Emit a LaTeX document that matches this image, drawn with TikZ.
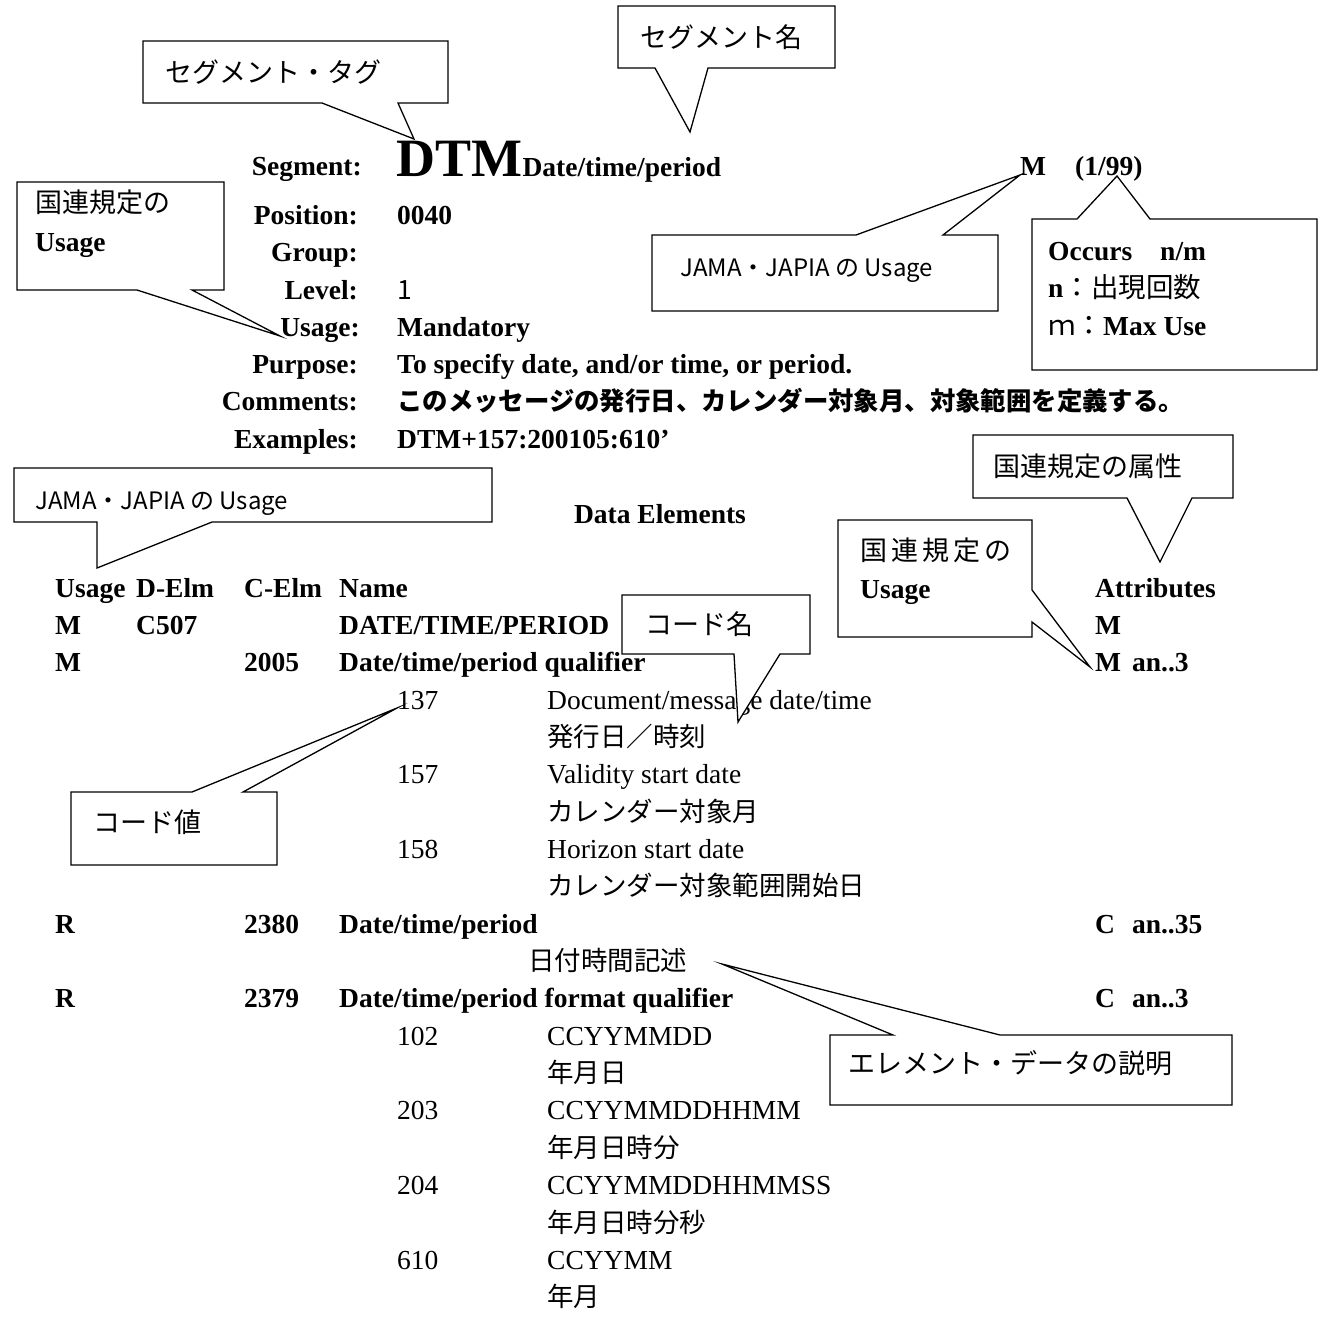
\documentclass[tikz,border=0pt]{standalone}
\usepackage{fontspec}
\setmainfont{Liberation Serif}
\newfontfamily\jp{Noto Sans CJK JP}
\begin{document}
\begin{tikzpicture}[x=1pt,y=-1pt,
  lab/.style={anchor=base east,inner sep=0pt,font=\fontsize{27.5}{30}\selectfont\bfseries},
  bv/.style={anchor=base west,inner sep=0pt,font=\fontsize{27.5}{30}\selectfont\bfseries},
  rv/.style={anchor=base west,inner sep=0pt,font=\fontsize{27.5}{30}\selectfont},
  jv/.style={anchor=base west,inner sep=0pt,font=\fontsize{26.5}{30}\selectfont\jp},
  ct/.style={anchor=base west,inner sep=0pt,font=\fontsize{27}{30}\selectfont\jp},
  co/.style={draw=black,fill=white,line width=1.3pt,line join=miter,miter limit=30},
]
\useasboundingbox (0,0) rectangle (1326,1320);

% ---------- segment header ----------
\node[lab] (lseg) at (362,175) {Segment:};
\node[anchor=base west,inner sep=0pt,font=\fontsize{54}{54}\selectfont\bfseries] (dtm) at (396,176) {DTM};
\node[bv] (segname) at (dtm.base east) {Date/time/period};
\node[bv] (segm) at (1020,175) {M};
\node[bv] (segocc) at (1075,175) {(1/99)};
\node[lab] (lpos) at (358,224) {Position:};
\node[bv] (vpos) at (397,224) {0040};
\node[lab] (lgrp) at (358,261) {Group:};
\node[lab] (llev) at (358,299) {Level:};
\node[jv] (vlev) at (397,299) {1};
\node[lab] (luse) at (360,336) {Usage:};
\node[bv] (vuse) at (397,336) {Mandatory};
\node[lab] (lpur) at (358,373) {Purpose:};
\node[bv] (vpur) at (397,373) {To specify date, and/or time, or period.};
\node[lab] (lcom) at (358,410) {Comments:};
\node[anchor=base west,inner sep=0pt,font=\fontsize{25.4}{30}\selectfont\jp\bfseries] (vcom) at (397,410) {このメッセージの発行日、カレンダー対象月、対象範囲を定義する。};
\node[lab] (lex) at (358,448) {Examples:};
\node[bv] (vex) at (397,448) {DTM+157:200105:610’};

\node[anchor=base,inner sep=0pt,font=\fontsize{27.5}{30}\selectfont\bfseries] (de) at (660,523) {Data Elements};

% ---------- table ----------
\node[bv] (hu) at (55,597) {Usage};
\node[bv] (hd) at (136,597) {D-Elm};
\node[bv] (hc) at (244,597) {C-Elm};
\node[bv] (hn) at (339,597) {Name};
\node[bv] (ha) at (1095,597) {Attributes};

\node[bv] (r1u) at (55,634.4) {M};
\node[bv] (r1d) at (136,634.4) {C507};
\node[bv] (r1n) at (339,634.4) {DATE/TIME/PERIOD};
\node[bv] (r1a) at (1095,634.4) {M};

\node[bv] (r2u) at (55,671.7) {M};
\node[bv] (r2c) at (244,671.7) {2005};
\node[bv] (r2n) at (339,671.7) {Date/time/period qualifier};
\node[bv] (r2a) at (1095,671.7) {M\hspace{11pt}an..3};

\node[rv] (c137) at (397,709.1) {137};
\node[rv] (d137) at (547,709.1) {Document/message date/time};
\node[jv] (j137) at (547,746.4) {発行日／時刻};
\node[rv] (c157) at (397,783.8) {157};
\node[rv] (d157) at (547,783.8) {Validity start date};
\node[jv] (j157) at (547,821.1) {カレンダー対象月};
\node[rv] (c158) at (397,858.5) {158};
\node[rv] (d158) at (547,858.5) {Horizon start date};
\node[jv] (j158) at (547,895.8) {カレンダー対象範囲開始日};

\node[bv] (r3u) at (55,933.2) {R};
\node[bv] (r3c) at (244,933.2) {2380};
\node[bv] (r3n) at (339,933.2) {Date/time/period};
\node[bv] (r3a) at (1095,933.2) {C\hspace{17pt}an..35};
\node[jv] (j2380) at (528,970.5) {日付時間記述};

\node[bv] (r4u) at (55,1007.9) {R};
\node[bv] (r4c) at (244,1007.9) {2379};
\node[bv] (r4n) at (339,1007.9) {Date/time/period format qualifier};
\node[bv] (r4a) at (1095,1007.9) {C\hspace{17pt}an..3};

\node[rv] (c102) at (397,1045.2) {102};
\node[rv] (d102) at (547,1045.2) {CCYYMMDD};
\node[jv] (j102) at (547,1082.6) {年月日};
\node[rv] (c203) at (397,1119.9) {203};
\node[rv] (d203) at (547,1119.9) {CCYYMMDDHHMM};
\node[jv] (j203) at (547,1157.3) {年月日時分};
\node[rv] (c204) at (397,1194.6) {204};
\node[rv] (d204) at (547,1194.6) {CCYYMMDDHHMMSS};
\node[jv] (j204) at (547,1232) {年月日時分秒};
\node[rv] (c610) at (397,1269.3) {610};
\node[rv] (d610) at (547,1269.3) {CCYYMM};
\node[jv] (j610) at (547,1306.7) {年月};

% ---------- callouts ----------
\coordinate (tagtip) at (414,139);
\draw[co] (143,41) -- (448,41) -- (448,103) -- (398,103) -- (tagtip) -- (322,103) -- (143,103) -- cycle;
\node[ct] (tagtxt) at (165,82) {セグメント・タグ};

\coordinate (nametip) at (690,132);
\draw[co] (618,6) -- (835,6) -- (835,68) -- (708,68) -- (nametip) -- (655,68) -- (618,68) -- cycle;
\node[ct] (nametxt) at (640,47) {セグメント名};

\coordinate (unutip) at (280,336);
\draw[co] (17,182) -- (224,182) -- (224,290) -- (192,290) -- (unutip) -- (137,290) -- (17,290) -- cycle;
\node[ct] (unutxt) at (35,212) {国連規定の};
\node[bv] (unutxt2) at (35,251) {Usage};

\coordinate (jamatip) at (1020,175);
\draw[co] (652,235) -- (856,235) -- (jamatip) -- (943,235) -- (998,235) -- (998,311) -- (652,311) -- cycle;
\node[anchor=base west,inner sep=0pt,font=\fontsize{24}{30}\selectfont\jp] (jamatxt) at (680,276) {JAMA・JAPIA の Usage};

\coordinate (occtip) at (1117,176);
\draw[co] (1032,219) -- (1077,219) -- (occtip) -- (1150,219) -- (1317,219) -- (1317,370) -- (1032,370) -- cycle;
\node[bv] (occ1) at (1048,260) {Occurs\hspace{28pt}n/m};
\node[bv] (occ2) at (1048,297) {n{\jp\mdseries ：出現回数}};
\node[bv] (occ3) at (1048,335) {{\jp\mdseries ｍ：}Max Use};

\coordinate (jama2tip) at (97,568);
\draw[co] (14,468) -- (492,468) -- (492,522) -- (212,522) -- (jama2tip) -- (97,522) -- (14,522) -- cycle;
\node[anchor=base west,inner sep=0pt,font=\fontsize{24}{30}\selectfont\jp] (jama2txt) at (35,509) {JAMA・JAPIA の Usage};

\coordinate (attrtip) at (1160,562);
\draw[co] (973,435) -- (1233,435) -- (1233,498) -- (1192,498) -- (attrtip) -- (1127,498) -- (973,498) -- cycle;
\node[ct] (attrtxt) at (993,476) {国連規定の属性};

\coordinate (unu2tip) at (1090,667);
\draw[co] (838,520) -- (1032,520) -- (1032,590) -- (unu2tip) -- (1032,622) -- (1032,637) -- (838,637) -- cycle;
\node[ct] (unu2txt) at (860,560) {国\hspace{4pt}連\hspace{4pt}規\hspace{4pt}定\hspace{4pt}の};
\node[bv] (unu2txt2) at (860,598) {Usage};

\coordinate (cnametip) at (738,722);
\draw[co] (622,595) -- (810,595) -- (810,654) -- (780,654) -- (cnametip) -- (734,654) -- (622,654) -- cycle;
\node[ct] (cnametxt) at (645,634) {コード名};

\coordinate (cvaltip) at (397,708);
\draw[co] (71,792) -- (192,792) -- (cvaltip) -- (243,792) -- (277,792) -- (277,865) -- (71,865) -- cycle;
\node[ct] (cvaltxt) at (93,832) {コード値};

\coordinate (desctip) at (722,964);
\draw[co] (830,1035) -- (893,1035) -- (desctip) -- (1000,1035) -- (1232,1035) -- (1232,1105) -- (830,1105) -- cycle;
\node[ct] (desctxt) at (848,1073) {エレメント・データの説明};
\end{tikzpicture}
\end{document}
